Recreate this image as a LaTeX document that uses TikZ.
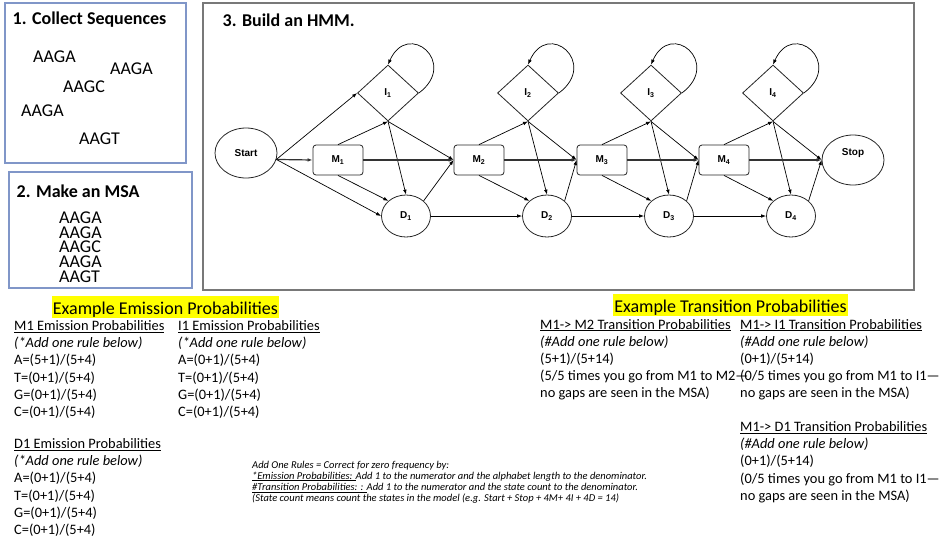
\documentclass[tikz,border=0pt]{standalone}
\usepackage{fontspec}
\setmainfont{Carlito}
\newfontfamily\hmmfont{Liberation Sans}
\usetikzlibrary{shapes.geometric,arrows.meta}
\definecolor{boxblue}{RGB}{128,150,200}
\definecolor{boxgray}{RGB}{120,120,120}
\definecolor{hlyellow}{RGB}{255,255,0}

\begin{document}
\begin{tikzpicture}[x=1pt,y=-1pt,
  panel/.style={draw=boxblue,line width=1.3pt},
  hmmpanel/.style={draw=boxgray,line width=1.4pt},
  ttl/.style={anchor=base west,inner sep=0,font=\bfseries\fontsize{18}{21}\selectfont},
  seq/.style={anchor=west,inner sep=0,font=\fontsize{18}{21}\selectfont},
  hmm/.style={draw=black!85,line width=0.8pt,inner sep=0,font=\hmmfont\bfseries\fontsize{10}{12}\selectfont},
  endst/.style={hmm,ellipse,minimum width=62,minimum height=50},
  mst/.style={hmm,rounded corners=3pt,minimum width=50,minimum height=30},
  ist/.style={hmm,diamond,minimum width=61,minimum height=56},
  dst/.style={hmm,ellipse,minimum width=49,minimum height=42},
  arr/.style={-{Latex[length=5pt,width=3.6pt]},line width=0.7pt},
  marr/.style={arr,line width=1.2pt,draw=black!80},
  txt/.style={anchor=base west,inner sep=0,font=\fontsize{14.4}{17.2}\selectfont},
  hl/.style={anchor=base,fill=hlyellow,inner xsep=1pt,inner ysep=1pt,text height=17pt,text depth=3pt,font=\fontsize{18}{21}\selectfont}]
\useasboundingbox (0,0) rectangle (947,539);
\fill[white] (0,0) rectangle (947,539);

\draw[panel] (5,3) rectangle (186,163);
\draw[panel] (9,172) rectangle (192,288);
\draw[hmmpanel] (203,3) rectangle (914,290);

\node[ttl] (t1) at (12.5,24) {1. Collect Sequences};
\node[ttl] (t2) at (16.5,197.5) {2. Make an MSA};
\node[ttl] (t3) at (222.5,26) {3. Build an HMM.};

\foreach \s/\x/\y [count=\k] in {AAGA/33/57, AAGA/110/69, AAGC/63/87, AAGA/21/111, AAGT/79/139}
  \node[seq] (seq\k) at (\x,\y) {\s};
\node[seq,anchor=north west,align=left,font=\fontsize{18}{14.8}\selectfont] (msa) at (59,211.5) {AAGA\\AAGA\\AAGC\\AAGA\\AAGT};

\node[endst] (start) at (246,153) {Start};
\foreach \i/\x/\ix/\dx in {1/338/388/406, 2/479/528/547, 3/602/651/669, 4/724/773/791} {
  \node[mst] (m\i) at (\x,160) {M\textsubscript{\i}};
  \node[ist] (i\i) at (\ix,93) {I\textsubscript{\i}};
  \node[dst] (d\i) at (\dx,216) {D\textsubscript{\i}};
}
\node[endst,label={[hmm,draw=none,yshift=7pt]center:Stop}] (stop) at (853,160) {};

\draw[arr] (start.-12) -- (i1.west);
\draw[marr] (start.-12) -- (m1.west);
\draw[arr] (start.-12) -- (d1.west);
\foreach \i/\n in {1/m2, 2/m3, 3/m4, 4/stop} {
  \draw[arr] (m\i.north) -- (i\i.south);
  \draw[arr] (m\i.south) -- (d\i.north west);
  \draw[arr] (i\i.south) -- (d\i.north);
  \draw[arr] (i\i.south) -- (\n.west);
  \draw[arr] (d\i.north east) -- (\n.west);
  \draw[marr] (m\i.east) -- (\n.west);
  \draw[arr] (i\i.east) .. controls +(40,-30) and +(20,-45) .. (i\i.north);
}
\foreach \i/\j in {1/2, 2/3, 3/4}
  \draw[arr] (d\i.east) -- (d\j.west);

\node[hl] (emhl) at (165.5,314) {Example Emission Probabilities};
\node[hl] (trhl) at (730.5,312) {Example Transition Probabilities};

\node[txt] (m1em) at (14,330.5) {\begin{tabular}[t]{@{}l@{}}\underline{M1 Emission Probabilities}\\ \textit{(*Add one rule below)}\\ A=(5+1)/(5+4)\\ T=(0+1)/(5+4)\\ G=(0+1)/(5+4)\\ C=(0+1)/(5+4)\end{tabular}};
\node[txt] (i1em) at (178,330.5) {\begin{tabular}[t]{@{}l@{}}\underline{I1 Emission Probabilities}\\ \textit{(*Add one rule below)}\\ A=(0+1)/(5+4)\\ T=(0+1)/(5+4)\\ G=(0+1)/(5+4)\\ C=(0+1)/(5+4)\end{tabular}};
\node[txt] (d1em) at (14,448.5) {\begin{tabular}[t]{@{}l@{}}\underline{D1 Emission Probabilities}\\ \textit{(*Add one rule below)}\\ A=(0+1)/(5+4)\\ T=(0+1)/(5+4)\\ G=(0+1)/(5+4)\\ C=(0+1)/(5+4)\end{tabular}};

\node[txt] (m2tr) at (540,329) {\begin{tabular}[t]{@{}l@{}}\underline{M1-> M2 Transition Probabilities}\\ \textit{(\#Add one rule below)}\\ (5+1)/(5+14)\\ (5/5 times you go from M1 to M2—\\ no gaps are seen in the MSA)\end{tabular}};
\node[txt] (i1tr) at (740,329) {\begin{tabular}[t]{@{}l@{}}\underline{M1-> I1 Transition Probabilities}\\ \textit{(\#Add one rule below)}\\ (0+1)/(5+14)\\ (0/5 times you go from M1 to I1—\\ no gaps are seen in the MSA)\end{tabular}};
\node[txt] (d1tr) at (740,431.5) {\begin{tabular}[t]{@{}l@{}}\underline{M1-> D1 Transition Probabilities}\\ \textit{(\#Add one rule below)}\\ (0+1)/(5+14)\\ (0/5 times you go from M1 to I1—\\ no gaps are seen in the MSA)\end{tabular}};

\node[txt,font=\itshape\fontsize{10.5}{11.2}\selectfont] (rules) at (252,468) {\begin{tabular}[t]{@{}l@{}}Add One Rules = Correct for zero frequency by:\\ \underline{*Emission Probabilities: }Add 1 to the numerator and the alphabet length to the denominator.\\ \underline{\#Transition Probabilities: : }Add 1 to the numerator and the state count to the denominator.\\ (State count means count the states in the model (e.g. Start + Stop + 4M+ 4I + 4D = 14)\end{tabular}};
\end{tikzpicture}
\end{document}
